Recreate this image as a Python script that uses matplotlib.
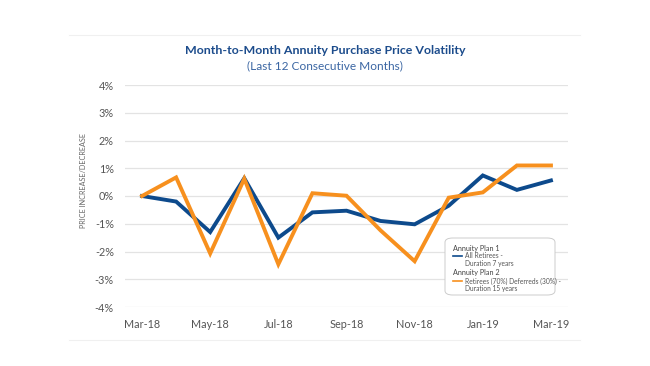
import matplotlib
matplotlib.use('Agg')
import matplotlib.pyplot as plt
from matplotlib.patches import FancyBboxPatch
from matplotlib.lines import Line2D

plt.rcParams['font.family'] = ['Lato', 'DejaVu Sans']

# dados (% de variacao mes a mes)
months = ['Mar-18', 'Apr-18', 'May-18', 'Jun-18', 'Jul-18', 'Aug-18', 'Sep-18',
          'Oct-18', 'Nov-18', 'Dec-18', 'Jan-19', 'Feb-19', 'Mar-19']
plan1 = [0.0, -0.2, -1.3, 0.64, -1.5, -0.59, -0.53, -0.9, -1.02, -0.35, 0.74, 0.22, 0.56]
plan2 = [0.0, 0.67, -2.07, 0.62, -2.46, 0.1, 0.01, -1.24, -2.35, -0.06, 0.13, 1.1, 1.1]
yticks = [-4, -3, -2, -1, 0, 1, 2, 3, 4]

blue = '#0d4a8c'
orange = '#f7901e'
W, H = 650, 366

fig = plt.figure(figsize=(6.5, 3.66), dpi=100)
ax = fig.add_axes([125 / W, 1 - 307 / H, (568 - 125) / W, (307 - 85) / H])

x = list(range(len(months)))
ax.plot(x, plan1, color=blue, lw=2.8, solid_joinstyle='miter', zorder=3)
ax.plot(x, plan2, color=orange, lw=2.8, solid_joinstyle='miter', zorder=4)

ax.set_xlim(-0.5, 12.5)
ax.set_ylim(-4, 4)
ax.set_yticks(yticks)
ax.set_yticklabels([f'{v}%' for v in yticks])
ax.set_xticks(x[::2])
ax.set_xticklabels(months[::2])
ax.tick_params(length=0, labelsize=7.8, colors='#555555', pad=8)
ax.tick_params(axis='x', pad=9)
ax.grid(axis='y', color='#e3e3e3', lw=0.9)
ax.set_axisbelow(True)
for s in ax.spines.values():
    s.set_visible(False)

# titulo
fig.text(0.5, 1 - 50 / H, 'Month-to-Month Annuity Purchase Price Volatility',
         ha='center', va='center', fontsize=8.9, fontweight='bold', color='#1c4c8c')
fig.text(0.5, 1 - 66 / H, '(Last 12 Consecutive Months)',
         ha='center', va='center', fontsize=8.6, color='#3b66a3')
fig.text(84 / W, 1 - 180 / H, 'PRICE INCREASE/DECREASE', rotation=90,
         ha='center', va='center', fontsize=5.2, color='#666666')

# linhas finas de moldura
fig.add_artist(Line2D([69 / W, 580 / W], [1 - 35 / H, 1 - 35 / H], color='#f0f0f0', lw=0.8))
fig.add_artist(Line2D([69 / W, 580 / W], [1 - 340 / H, 1 - 340 / H], color='#f0f0f0', lw=0.8))

# legenda
box = FancyBboxPatch((445 / W, 1 - 295 / H), 110 / W, 57 / H,
                     boxstyle='round,pad=0,rounding_size=0.012',
                     transform=fig.transFigure, facecolor='white',
                     edgecolor='#cccccc', lw=0.7, zorder=5)
fig.add_artist(box)

def px(xp, yp):
    return xp / W, 1 - yp / H

leg_items = [
    ('Annuity Plan 1', None, 249),
    ('All Retirees -\nDuration 7 years', blue, 256),
    ('Annuity Plan 2', None, 273),
    ('Retirees (70%) Deferreds (30%) -\nDuration 15 years', orange, 281),
]
for label, col, yp in leg_items:
    if col is None:
        fig.text(*px(453, yp), label, ha='left', va='center', fontsize=5.2,
                 color='#444444', zorder=6)
    else:
        fig.add_artist(Line2D([453 / W, 462 / W], [1 - yp / H] * 2, color=col, lw=1.2, zorder=6))
        fig.text(*px(465, yp - 3.5), label, ha='left', va='top', fontsize=4.8,
                 color='#555555', linespacing=1.1, zorder=6)

fig.savefig('out.png', dpi=100, facecolor='white')
